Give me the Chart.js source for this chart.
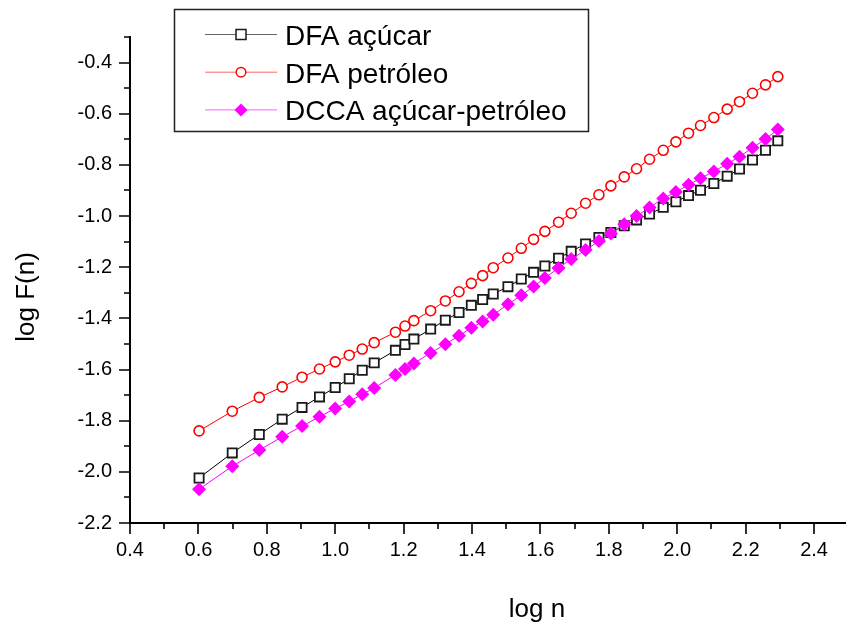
<!DOCTYPE html>
<html>
<head>
<meta charset="utf-8">
<title>log F(n) x log n</title>
<script src="https://cdn.jsdelivr.net/npm/chart.js@4.4.1/dist/chart.umd.min.js"></script>
<style>
  html, body { margin: 0; padding: 0; background: #fff; overflow: hidden; }
</style>
</head>
<body>
<canvas id="grafico" width="854" height="628"></canvas>
<script>
// eixo x: log n
var logN = [0.602, 0.699, 0.778, 0.845, 0.903, 0.954, 1.000, 1.041, 1.079, 1.114,
            1.176, 1.204, 1.230, 1.279, 1.322, 1.362, 1.398, 1.431, 1.462, 1.505,
            1.544, 1.580, 1.613, 1.653, 1.690, 1.732, 1.771, 1.806, 1.845, 1.881,
            1.919, 1.959, 1.996, 2.033, 2.068, 2.107, 2.146, 2.182, 2.220, 2.258, 2.294];

// log F(n) de cada serie
var dfaAcucar = [-2.024, -1.926, -1.854, -1.794, -1.748, -1.707, -1.670, -1.636, -1.603, -1.574,
                 -1.525, -1.502, -1.481, -1.442, -1.407, -1.377, -1.349, -1.326, -1.305, -1.276,
                 -1.246, -1.220, -1.195, -1.165, -1.138, -1.109, -1.084, -1.064, -1.038, -1.015,
                 -0.992, -0.966, -0.944, -0.920, -0.899, -0.873, -0.844, -0.816, -0.781, -0.743, -0.706];

var dfaPetroleo = [-1.840, -1.763, -1.709, -1.668, -1.630, -1.598, -1.570, -1.544, -1.520, -1.495,
                   -1.454, -1.430, -1.409, -1.370, -1.332, -1.296, -1.263, -1.233, -1.202, -1.164,
                   -1.126, -1.091, -1.060, -1.024, -0.989, -0.950, -0.917, -0.882, -0.847, -0.815,
                   -0.778, -0.743, -0.710, -0.676, -0.646, -0.615, -0.582, -0.553, -0.520, -0.487, -0.455];

var dccaAcucarPetroleo = [-2.068, -1.978, -1.915, -1.863, -1.821, -1.785, -1.752, -1.725, -1.697, -1.672,
                          -1.621, -1.598, -1.576, -1.535, -1.501, -1.468, -1.437, -1.412, -1.386, -1.345,
                          -1.310, -1.275, -1.242, -1.203, -1.168, -1.133, -1.098, -1.068, -1.032, -1.000,
                          -0.967, -0.931, -0.906, -0.878, -0.852, -0.826, -0.796, -0.768, -0.733, -0.699, -0.662];

var xTickLabels = ['0.4', '0.6', '0.8', '1.0', '1.2', '1.4', '1.6', '1.8', '2.0', '2.2', '2.4'];
var yTickLabels = ['-2.2', '-2.0', '-1.8', '-1.6', '-1.4', '-1.2', '-1.0', '-0.8', '-0.6', '-0.4'];

var FONTE = '"Liberation Sans", Arial, sans-serif';

function pares(ys) {
    return ys.map(function (y, i) { return { x: logN[i], y: y }; });
}

function rotulo(v, lista) {
    var t = v.toFixed(1);
    if (t === '-0.0') t = '0.0';
    return lista.indexOf(t) >= 0 ? t : '';
}

// ticks a cada 0.1; os que tem rotulo sao os maiores
function ticksDecimos(de, ate) {
    return function (scale) {
        var t = [];
        for (var i = de; i <= ate; i++) t.push({ value: i / 10 });
        scale.ticks = t;
    };
}

// marcas dos ticks, para fora do eixo
var marcasTicks = {
    id: 'marcasTicks',
    afterDraw: function (chart) {
        var ctx = chart.ctx, a = chart.chartArea;
        var sx = chart.scales.x, sy = chart.scales.y;
        ctx.save();
        ctx.strokeStyle = '#000';
        ctx.lineWidth = 1.6;
        ctx.beginPath();
        sx.ticks.forEach(function (t) {
            var px = Math.round(sx.getPixelForValue(t.value));
            var len = rotulo(t.value, xTickLabels) ? 11 : 6;
            ctx.moveTo(px, a.bottom);
            ctx.lineTo(px, a.bottom + len);
        });
        sy.ticks.forEach(function (t) {
            var py = Math.round(sy.getPixelForValue(t.value));
            var len = rotulo(t.value, yTickLabels) ? 11 : 6;
            ctx.moveTo(a.left, py);
            ctx.lineTo(a.left - len, py);
        });
        ctx.stroke();
        ctx.restore();
    }
};

function marcador(ctx, estilo, x, y, r, cor, fundo, larg) {
    ctx.save();
    ctx.lineWidth = larg;
    ctx.strokeStyle = cor;
    ctx.fillStyle = fundo;
    ctx.beginPath();
    if (estilo === 'rect') {
        ctx.rect(x - r, y - r, 2 * r, 2 * r);
    } else if (estilo === 'circle') {
        ctx.arc(x, y, r, 0, Math.PI * 2);
    } else {
        ctx.moveTo(x - r, y);
        ctx.lineTo(x, y - r);
        ctx.lineTo(x + r, y);
        ctx.lineTo(x, y + r);
        ctx.closePath();
    }
    ctx.fill();
    if (larg > 0) ctx.stroke();
    ctx.restore();
}

// legenda em caixa sobre o grafico
var legendaCaixa = {
    id: 'legendaCaixa',
    afterDraw: function (chart) {
        var ctx = chart.ctx;
        var tam = [5, 4.8, 6.5];
        ctx.save();
        ctx.fillStyle = '#fff';
        ctx.fillRect(174.5, 9.5, 414, 122);
        ctx.strokeStyle = '#222';
        ctx.lineWidth = 1.5;
        ctx.strokeRect(174.5, 9.5, 414, 122);
        chart.data.datasets.forEach(function (ds, i) {
            var yy = 34.5 + i * 37.7;
            ctx.strokeStyle = ds.borderColor;
            ctx.globalAlpha = 0.6;
            ctx.lineWidth = 1;
            ctx.beginPath();
            ctx.moveTo(205, yy);
            ctx.lineTo(277, yy);
            ctx.stroke();
            ctx.globalAlpha = 1;
            marcador(ctx, ds.pointStyle, 241, yy, tam[i], ds.pointBorderColor,
                     ds.pointBackgroundColor, ds.pointStyle === 'rectRot' ? 0 : 1.5);
            ctx.fillStyle = '#000';
            ctx.font = '28px ' + FONTE;
            ctx.textAlign = 'left';
            ctx.textBaseline = 'alphabetic';
            ctx.fillText(ds.label, 285, yy + 10.5);
        });
        ctx.restore();
    }
};

var titulosEixos = {
    id: 'titulosEixos',
    afterDraw: function (chart) {
        var ctx = chart.ctx;
        ctx.save();
        ctx.fillStyle = '#000';
        ctx.font = '26px ' + FONTE;
        ctx.textAlign = 'center';
        ctx.textBaseline = 'alphabetic';
        ctx.fillText('log n', 537, 617);
        ctx.translate(34, 297);
        ctx.rotate(-Math.PI / 2);
        ctx.fillText('log F(n)', 0, 0);
        ctx.restore();
    }
};

var context = document.getElementById('grafico');
var graph = new Chart(context, {
    type: 'scatter',
    data: {
        datasets: [
            {
                label: 'DFA açúcar',
                data: pares(dfaAcucar),
                showLine: true,
                borderColor: '#000000',
                borderWidth: 1,
                pointStyle: 'rect',
                pointRadius: 6.5,
                pointBorderWidth: 1.8,
                pointBorderColor: '#1a1a1a',
                pointBackgroundColor: '#ffffff',
                order: 3
            },
            {
                label: 'DFA petróleo',
                data: pares(dfaPetroleo),
                showLine: true,
                borderColor: '#ff0000',
                borderWidth: 1,
                pointStyle: 'circle',
                pointRadius: 5,
                pointBorderWidth: 1.6,
                pointBorderColor: '#ff0000',
                pointBackgroundColor: '#ffffff',
                order: 2
            },
            {
                label: 'DCCA açúcar-petróleo',
                data: pares(dccaAcucarPetroleo),
                showLine: true,
                borderColor: '#ff00ff',
                borderWidth: 1,
                pointStyle: 'rectRot',
                pointRadius: 7,
                pointBorderWidth: 0,
                pointBorderColor: '#ff00ff',
                pointBackgroundColor: '#ff00ff',
                order: 1
            }
        ]
    },
    options: {
        responsive: false,
        animation: false,
        layout: { padding: { top: 37, right: 0, left: 0, bottom: 0 } },
        plugins: {
            legend: { display: false },
            tooltip: { enabled: false }
        },
        scales: {
            x: {
                type: 'linear',
                min: 0.4,
                max: 2.4925,
                afterBuildTicks: ticksDecimos(4, 24),
                afterFit: function (s) { s.height = 105; },
                grid: { display: false, drawTicks: false },
                border: { display: true, color: '#000', width: 2 },
                ticks: {
                    autoSkip: false,
                    maxRotation: 0,
                    padding: 15,
                    color: '#000',
                    font: { family: FONTE, size: 20 },
                    callback: function (v) { return rotulo(v, xTickLabels); }
                }
            },
            y: {
                type: 'linear',
                min: -2.2,
                max: -0.3,
                afterBuildTicks: ticksDecimos(-22, -3),
                afterFit: function (s) { s.width = 130; },
                grid: { display: false, drawTicks: false },
                border: { display: true, color: '#000', width: 2 },
                ticks: {
                    autoSkip: false,
                    padding: 18,
                    color: '#000',
                    font: { family: FONTE, size: 20 },
                    callback: function (v) { return rotulo(v, yTickLabels); }
                }
            }
        }
    },
    plugins: [marcasTicks, titulosEixos, legendaCaixa]
});
</script>
</body>
</html>
